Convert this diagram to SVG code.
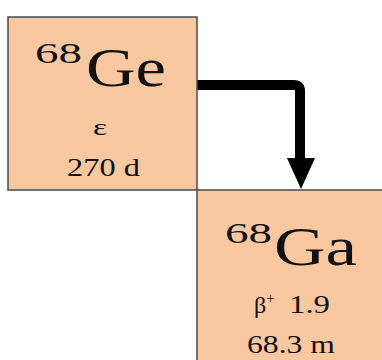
<svg xmlns="http://www.w3.org/2000/svg" width="382" height="360" viewBox="0 0 382 360">
<style>
.box{fill:#FAC8A0;stroke:#4a4a4a;stroke-width:1.5}
</style>
<rect width="382" height="360" fill="#fff"/>
<g id="connectors">
<path d="M197 85 H294 Q300 85 300 91 V162" fill="none" stroke="#000" stroke-width="10"/>
<polygon points="287,158 315,158 301,189" fill="#000"/>
</g>
<g id="ge68" font-family="Liberation Serif" fill="#111">
<rect class="box" x="8" y="17" width="189" height="173"/>
<text x="35" y="63" font-size="30" textLength="47" lengthAdjust="spacingAndGlyphs">68</text>
<text x="86" y="86" font-size="54" textLength="80" lengthAdjust="spacingAndGlyphs">Ge</text>
<text x="93" y="135" font-size="24" textLength="14" lengthAdjust="spacingAndGlyphs">ε</text>
<text x="67" y="176" font-size="26" textLength="73" lengthAdjust="spacingAndGlyphs">270 d</text>
</g>
<g id="ga68" font-family="Liberation Serif" fill="#111">
<rect class="box" x="197" y="190" width="190" height="175"/>
<text x="225" y="243" font-size="30" textLength="47" lengthAdjust="spacingAndGlyphs">68</text>
<text x="274" y="265" font-size="54" textLength="83" lengthAdjust="spacingAndGlyphs">Ga</text>
<text x="254" y="313" font-size="24">β<tspan font-size="15" dy="-10">+</tspan></text>
<text x="289" y="313" font-size="26" textLength="41" lengthAdjust="spacingAndGlyphs">1.9</text>
<text x="247" y="353" font-size="26" textLength="88" lengthAdjust="spacingAndGlyphs">68.3 m</text>
</g>
</svg>
